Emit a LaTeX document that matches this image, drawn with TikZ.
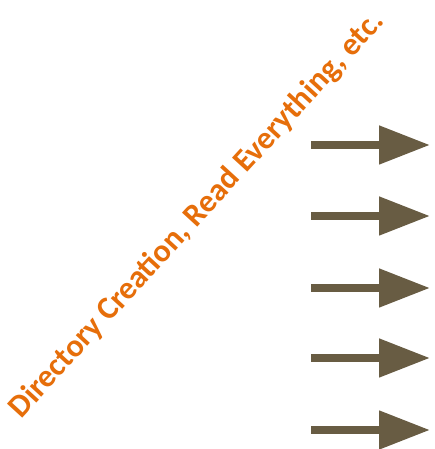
\documentclass[tikz,border=0pt]{standalone}
\usepackage{fontspec}
\setmainfont{Carlito}
\usetikzlibrary{arrows.meta}
\definecolor{labelorange}{RGB}{230,110,10}
\definecolor{arrowbrown}{RGB}{104,92,67}
\tikzset{
  flowarrow/.style={draw=arrowbrown, line width=8pt,
    -{Triangle[length=51pt,width=37pt,fill=arrowbrown]}},
  slantlabel/.style={text=labelorange, font=\bfseries\fontsize{32}{36}\selectfont,
    rotate=47.5, inner sep=0pt}
}
\begin{document}
\begin{tikzpicture}[x=1pt,y=1pt]
  \useasboundingbox (0,0) rectangle (434,449);
  \node[slantlabel] (label) at (197,234) {Directory Creation, Read Everything, etc.};
  \foreach \i/\y in {1/304,2/233,3/161,4/91,5/19} {
    \coordinate (s\i) at (311,\y);
    \coordinate (e\i) at (430,\y);
    \draw[flowarrow] (s\i) -- (e\i);
  }
\end{tikzpicture}
\end{document}
